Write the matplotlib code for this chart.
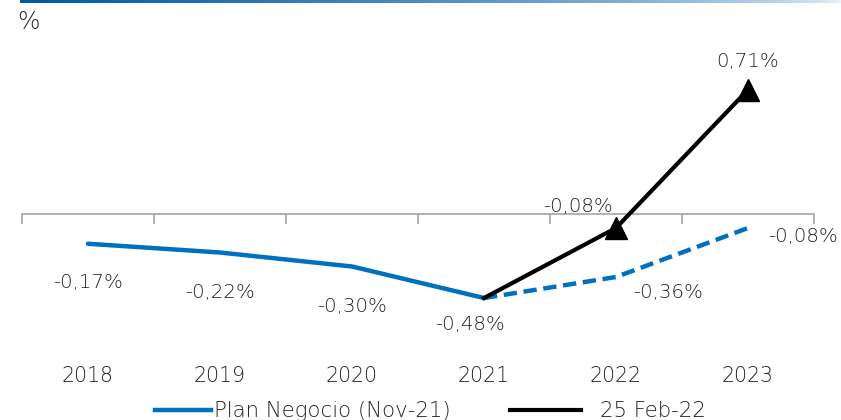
import matplotlib
matplotlib.use("Agg")
import matplotlib.pyplot as plt
import numpy as np
from matplotlib.lines import Line2D

plt.rcParams['font.family'] = ['DejaVu Sans']
plt.rcParams['font.weight'] = 'light'

years = ["2018", "2019", "2020", "2021", "2022", "2023"]
plan_hist = [-0.17, -0.22, -0.30, -0.48]          # 2018-2021 solid
plan_proj = [-0.48, -0.36, -0.08]                 # 2021-2023 dashed
feb_vals = [-0.48, -0.08, 0.71]                   # 2021-2023
plan_labels = ["-0,17%", "-0,22%", "-0,30%", "-0,48%", "-0,36%", "-0,08%"]
feb_labels = ["-0,08%", "0,71%"]
legend_names = ["Plan Negocio (Nov-21)", "25 Feb-22"]

BLUE = "#0070C0"
GREY = "#A6A6A6"
TXT = "#222222"
FS = 14.2

W, H = 841, 420
fig = plt.figure(figsize=(W / 100, H / 100), dpi=100)

# top gradient rule
gax = fig.add_axes([20 / W, 1 - 3 / H, 1 - 20 / W, 3 / H])
grad = np.linspace(0, 1, 256)
c0 = np.array([0.0, 0.35, 0.65])
c1 = np.array([0.93, 0.96, 0.99])
img = (c0[None, :] * (1 - grad[:, None]) ** 0.6 + c1[None, :] * (1 - (1 - grad[:, None]) ** 0.6))
gax.imshow(img[None, :, :], aspect='auto', extent=[0, 1, 0, 1])
gax.axis('off')

# main axes
top_px, bot_px, zero_px, k = 30, 360, 214, 175.0
ax = fig.add_axes([22 / W, (H - bot_px) / H, (814 - 22) / W, (bot_px - top_px) / H])
ax.set_xlim(-0.5, 5.5)
ax.set_ylim(-(bot_px - zero_px) / k, (zero_px - top_px) / k)
for s in ['top', 'right', 'left']:
    ax.spines[s].set_visible(False)
ax.spines['bottom'].set_position(('data', 0))
ax.spines['bottom'].set_color(GREY)
ax.spines['bottom'].set_linewidth(1.2)
ax.set_yticks([])
ax.set_xticks(np.arange(-0.5, 6.0, 1.0))
ax.set_xticklabels([])
ax.tick_params(axis='x', direction='out', length=7, width=1.2, color=GREY)

x = np.arange(len(years))
ax.plot(x[:4], plan_hist, color=BLUE, lw=3.2, solid_capstyle='round', zorder=3)
ax.plot(x[3:], plan_proj, color=BLUE, lw=3.2, dashes=(3.0, 1.5), zorder=3)
ax.plot(x[3:], feb_vals, color='black', lw=3.0, marker='^', markevery=[1, 2],
        markersize=16, zorder=4)

for i, y in enumerate(years):
    ax.text(i, -0.048, y, transform=ax.get_xaxis_transform(), ha='center', va='center',
            fontsize=FS + 0.6, color=TXT)

plan_vals = plan_hist + plan_proj[1:]
plan_off = [(0, -39), (0, -40), (0, -40), (-14, -27), (52, -16), (55, -8)]
for i, (v, lab, off) in enumerate(zip(plan_vals, plan_labels, plan_off)):
    ax.annotate(lab, (i, v), xytext=off, textcoords='offset pixels', ha='center',
                va='center', fontsize=FS, color=TXT)
feb_off = [(-38, 21), (0, 28)]
for j, (v, lab, off) in enumerate(zip(feb_vals[1:], feb_labels, feb_off)):
    ax.annotate(lab, (4 + j, v), xytext=off, textcoords='offset pixels', ha='center',
                va='center', fontsize=FS, color=TXT)

fig.text(17 / W, 1 - 22 / H, "%", fontsize=17, color=TXT, ha='left', va='center')

# legend
ly = 1 - 410 / H
lb = 1 - 417 / H
fig.add_artist(Line2D([155 / W, 211 / W], [ly, ly], color=BLUE, lw=3.2))
fig.text(214 / W, lb, legend_names[0], fontsize=15.3, color=TXT, ha='left', va='baseline')
fig.add_artist(Line2D([510 / W, 581 / W], [ly, ly], color='black', lw=3.0))
fig.text(600 / W, lb, legend_names[1], fontsize=15.3, color=TXT, ha='left', va='baseline')

fig.savefig("out.png", dpi=100)
